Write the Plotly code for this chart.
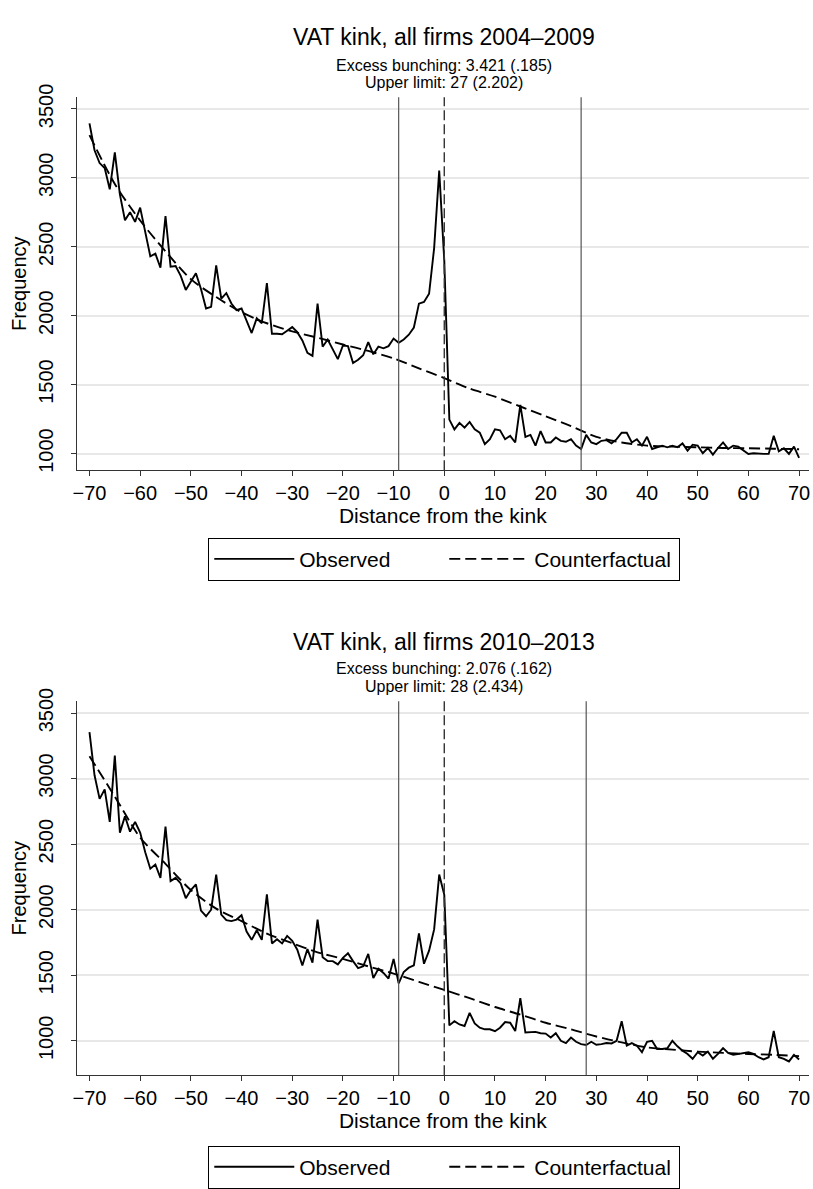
import plotly.graph_objects as go

# ---------------- data ----------------
distance = list(range(-70, 71))

observed_2004_2009 = [
    3395, 3200, 3107, 3071, 2917, 3185, 2880, 2692, 2751, 2680,   # -70..-61
    2784, 2609, 2431, 2450, 2348, 2723, 2355, 2360, 2289, 2187,   # -60..-51
    2253, 2308, 2194, 2052, 2064, 2365, 2123, 2163, 2088, 2040,   # -50..-41
    2052, 1969, 1874, 1981, 1945, 2237, 1869, 1869, 1865, 1891,   # -40..-31
    1917, 1880, 1820, 1730, 1708, 2087, 1775, 1827, 1756, 1685,   # -30..-21
    1784, 1779, 1656, 1680, 1713, 1808, 1720, 1775, 1763, 1779,   # -20..-11
    1834, 1803, 1827, 1862, 1914, 2087, 2099, 2159, 2490, 3052,   # -10..-1
    2400,                                                         # 0
    1246, 1175, 1222, 1187, 1229, 1175, 1151, 1068, 1104, 1175,   # 1..10
    1168, 1104, 1128, 1080, 1353, 1121, 1135, 1057, 1163, 1080,   # 11..20
    1080, 1116, 1092, 1085, 1104, 1057, 1033, 1135, 1080, 1068,   # 21..30
    1092, 1097, 1073, 1104, 1151, 1151, 1080, 1104, 1057, 1121,   # 31..40
    1033, 1045, 1057, 1045, 1057, 1045, 1073, 1021, 1064, 1057,   # 41..50
    1002, 1040, 992, 1040, 1080, 1033, 1057, 1050, 1021, 997,     # 51..60
    1002, 997, 997, 997, 1128, 1016, 1038, 997, 1050, 969,        # 61..70
]

observed_2010_2013 = [
    3355, 3025, 2845, 2918, 2670, 3175, 2588, 2713, 2595, 2670,   # -70..-61
    2588, 2438, 2313, 2345, 2243, 2633, 2218, 2243, 2200, 2088,   # -60..-51
    2150, 2193, 1993, 1950, 2000, 2268, 1963, 1920, 1913, 1925,   # -50..-41
    1958, 1833, 1770, 1843, 1770, 2118, 1743, 1775, 1743, 1800,   # -40..-31
    1763, 1695, 1575, 1700, 1597, 1925, 1638, 1608, 1608, 1583,   # -30..-21
    1633, 1668, 1608, 1555, 1568, 1663, 1478, 1550, 1518, 1475,   # -20..-11
    1625, 1438, 1525, 1558, 1575, 1820, 1588, 1688, 1850, 2268,   # -10..-1
    2113,                                                         # 0
    1118, 1150, 1125, 1113, 1213, 1133, 1100, 1088, 1088, 1073,   # 1..10
    1100, 1143, 1138, 1075, 1325, 1063, 1063, 1068, 1058, 1055,   # 11..20
    1025, 1058, 1000, 983, 1025, 993, 975, 968, 993, 970,         # 21..30
    975, 983, 980, 1000, 1150, 963, 983, 963, 913, 993,           # 31..40
    1000, 938, 938, 943, 1000, 958, 925, 900, 863, 913,           # 41..50
    888, 918, 863, 900, 945, 908, 893, 900, 908, 913,             # 51..60
    900, 875, 858, 875, 1075, 875, 863, 843, 893, 858,            # 61..70
]

cf_distance = list(range(-70, 71, 5))
counterfactual_2004_2009 = [
    3310, 2955, 2690, 2467, 2265, 2135, 2025, 1945, 1886, 1840,
    1791, 1744, 1690, 1618, 1547, 1471, 1412, 1341, 1270, 1199,
    1121, 1080, 1057, 1050, 1045, 1040, 1038, 1035, 1031,
]
counterfactual_2010_2013 = [
    3170, 2863, 2550, 2350, 2150, 2008, 1913, 1818, 1745, 1675,
    1625, 1568, 1513, 1450, 1388, 1325, 1258, 1200, 1138, 1088,
    1033, 988, 950, 933, 918, 908, 900, 893, 883,
]

kink = 0
limits_2004_2009 = [-9, 27]
limits_2010_2013 = [-9, 28]

titles = ["VAT kink, all firms 2004\u20132009", "VAT kink, all firms 2010\u20132013"]
sub_bunching = ["Excess bunching: 3.421 (.185)", "Excess bunching: 2.076 (.162)"]
sub_upper = ["Upper limit: 27 (2.202)", "Upper limit: 28 (2.434)"]

x_ticks = list(range(-70, 71, 10))
x_ticktext = [("\u2212" + str(-v)) if v < 0 else str(v) for v in x_ticks]
y_ticks = [1000, 1500, 2000, 2500, 3000, 3500]

# ---------------- figure ----------------
W, H = 813, 1189
FONT = "Liberation Sans, Arial, Helvetica, sans-serif"

fig = go.Figure()

panels = [
    dict(obs=observed_2004_2009, cf=counterfactual_2004_2009, lim=limits_2004_2009,
         xa="x", ya="y", legend="legend"),
    dict(obs=observed_2010_2013, cf=counterfactual_2010_2013, lim=limits_2010_2013,
         xa="x2", ya="y2", legend="legend2"),
]

for p in panels:
    fig.add_trace(go.Scatter(
        x=distance, y=p["obs"], mode="lines", name="Observed",
        line=dict(color="black", width=1.9),
        xaxis=p["xa"], yaxis=p["ya"], legend=p["legend"],
    ))
    fig.add_trace(go.Scatter(
        x=cf_distance, y=p["cf"], mode="lines", name="Counterfactual",
        line=dict(color="black", width=1.9, dash="11px,5px", shape="spline", smoothing=0.8),
        xaxis=p["xa"], yaxis=p["ya"], legend=p["legend"],
    ))

# pixel layout helpers
def py(px):
    return 1 - px / H

def pxx(px):
    return px / W

x_dom = [pxx(73), pxx(810)]
plot_boxes = [(86, 467), (703, 1085)]
y_ranges = [[879, 3585], [738, 3590]]

axis_common = dict(
    showline=True, linecolor="#333", linewidth=1, mirror=False,
    ticks="outside", ticklen=5, tickcolor="#333", tickwidth=1,
    zeroline=False,
)

for i, (top, bot) in enumerate(plot_boxes):
    sfx = "" if i == 0 else str(i + 1)
    fig.layout["xaxis" + sfx] = dict(
        axis_common, domain=x_dom, range=[-72.55, 71.96], anchor="y" + sfx,
        tickvals=x_ticks, ticktext=x_ticktext, showgrid=False,
        tickfont=dict(size=20, family=FONT, color="black"),
        title=dict(text="Distance from the kink", font=dict(size=21, family=FONT, color="black"),
                   standoff=4),
    )
    fig.layout["yaxis" + sfx] = dict(
        axis_common, domain=[py(bot), py(top)], range=y_ranges[i], anchor="x" + sfx,
        tickvals=y_ticks, tickangle=-90, showgrid=True, gridcolor="#e8e8e8", gridwidth=1.5,
        ticklabelstandoff=10,
        tickfont=dict(size=20, family=FONT, color="black"),
        title=dict(text="Frequency", font=dict(size=20, family=FONT, color="black"), standoff=2),
    )

# vertical reference lines
shapes = []
for i, p in enumerate(panels):
    xr = p["xa"]
    yr = p["ya"] + " domain"
    for v in p["lim"]:
        shapes.append(dict(type="line", xref=xr, yref=yr, x0=v, x1=v, y0=0, y1=1,
                           line=dict(color="#555", width=1.2)))
    shapes.append(dict(type="line", xref=xr, yref=yr, x0=kink, x1=kink, y0=0, y1=1,
                       line=dict(color="#333", width=1.4, dash="10px,4px")))
fig.update_layout(shapes=shapes)

# titles
ann = []
title_y = [(25, 54, 71), (643, 670, 688)]
for i in range(2):
    ty, s1, s2 = title_y[i]
    ann.append(dict(text=titles[i], x=pxx(443), y=py(ty), xref="paper", yref="paper",
                    xanchor="center", yanchor="middle", showarrow=False,
                    font=dict(size=23, family=FONT, color="black")))
    ann.append(dict(text=sub_bunching[i], x=pxx(443), y=py(s1), xref="paper", yref="paper",
                    xanchor="center", yanchor="middle", showarrow=False,
                    font=dict(size=16, family=FONT, color="black")))
    ann.append(dict(text=sub_upper[i], x=pxx(443), y=py(s2), xref="paper", yref="paper",
                    xanchor="center", yanchor="middle", showarrow=False,
                    font=dict(size=16, family=FONT, color="black")))
fig.update_layout(annotations=ann)

legend_common = dict(
    orientation="h", xanchor="center", yanchor="top", x=pxx(443),
    bordercolor="black", borderwidth=1, bgcolor="white",
    font=dict(size=21, family=FONT, color="black"),
    entrywidth=140, itemwidth=80, tracegroupgap=0,
)
fig.update_layout(
    width=W, height=H,
    margin=dict(l=0, r=0, t=0, b=0),
    paper_bgcolor="white", plot_bgcolor="white",
    font=dict(family=FONT, color="black"),
    showlegend=True,
    legend=dict(legend_common, y=py(536)),
    legend2=dict(legend_common, y=py(1157)),
)

fig.write_html("out.html")
